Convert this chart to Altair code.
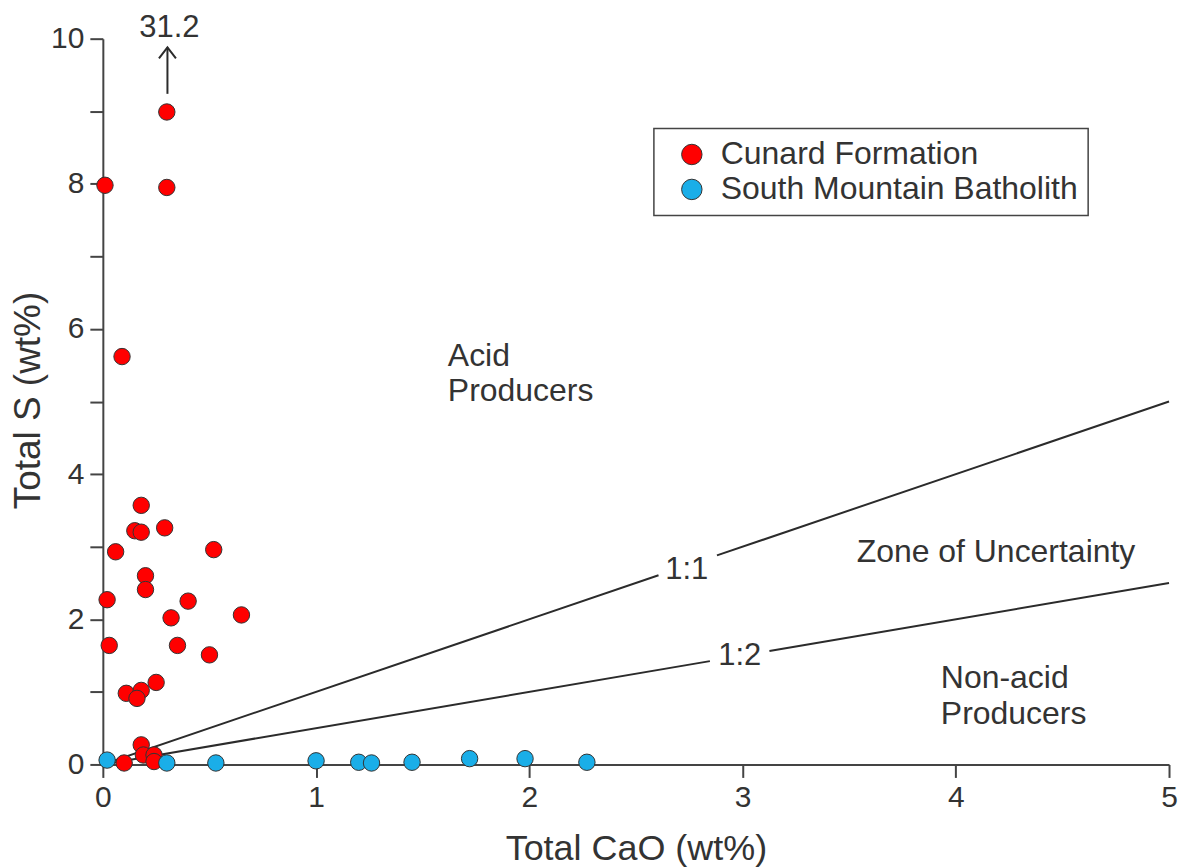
import altair as alt
import pandas as pd

# ---------------- data ----------------
series = ["Cunard Formation", "South Mountain Batholith"]
colors = ["#ff0000", "#1aaee8"]

cunard_cao = [0.01, 0.30, 0.30, 0.09, 0.18, 0.15, 0.18, 0.29, 0.06, 0.52,
              0.20, 0.20, 0.02, 0.40, 0.32, 0.65, 0.03, 0.35, 0.50, 0.25,
              0.11, 0.18, 0.16, 0.18, 0.19, 0.24, 0.24, 0.10]
cunard_s = [7.98, 8.99, 7.95, 5.62, 3.57, 3.22, 3.20, 3.26, 2.93, 2.96,
            2.60, 2.41, 2.27, 2.25, 2.02, 2.06, 1.64, 1.64, 1.51, 1.13,
            0.98, 1.02, 0.91, 0.27, 0.13, 0.13, 0.04, 0.02]

smb_cao = [0.02, 0.30, 0.53, 1.00, 1.20, 1.26, 1.45, 1.72, 1.98, 2.27]
smb_s = [0.06, 0.02, 0.02, 0.05, 0.03, 0.02, 0.03, 0.08, 0.08, 0.03]

# ratio lines (1:1 and 1:2), broken where their labels sit
seg_x1 = [0.0, 2.88, 0.0, 3.126]
seg_y1 = [0.0, 2.88, 0.0, 1.563]
seg_x2 = [2.606, 5.0, 2.847, 5.0]
seg_y2 = [2.606, 5.0, 1.4235, 2.5]

# annotation labels
left_text = ["Acid", "Producers", "Zone of Uncertainty", "Non-acid", "Producers"]
left_x = [1.618, 1.618, 3.535, 3.93, 3.93]
left_y = [5.495, 5.01, 2.79, 1.048, 0.557]

center_text = ["1:1", "1:2", "31.2"]
center_x = [2.738, 2.987, 0.3125]
center_y = [2.56, 1.37, 10.03]

# off-scale arrow (value 31.2)
arrow_x = [0.303]
arrow_y0 = [9.24]
arrow_y1 = [9.88]

# ---------------- tables ----------------
pts = pd.DataFrame({
    "cao": cunard_cao + smb_cao,
    "s": cunard_s + smb_s,
    "series": [series[0]] * len(cunard_cao) + [series[1]] * len(smb_cao),
})
segs = pd.DataFrame({"x": seg_x1, "y": seg_y1, "x2": seg_x2, "y2": seg_y2})
lt = pd.DataFrame({"x": left_x, "y": left_y, "t": left_text})
ct = pd.DataFrame({"x": center_x, "y": center_y, "t": center_text})
arr = pd.DataFrame({"x": arrow_x, "y": arrow_y0, "y2": arrow_y1})
head = pd.DataFrame({"x": arrow_x, "y": arrow_y1})

FONT = "Liberation Sans"
TXT = "#333333"
AX = "#444444"

xscale = alt.Scale(domain=[0, 5], nice=False, zero=False)
yscale = alt.Scale(domain=[0, 10], nice=False, zero=False)

xaxis = alt.Axis(values=[0, 1, 2, 3, 4, 5], format="d", title="Total CaO (wt%)", grid=False,
                 labelFlush=False, labelOverlap=False,
                 tickSize=13, tickWidth=2, domainWidth=2, domainColor=AX, tickColor=AX,
                 labelFontSize=30, labelColor=TXT, labelPadding=5, labelFont=FONT,
                 titleFontSize=36, titleFontWeight="normal", titleColor=TXT, titleFont=FONT,
                 titleY=95, titleBaseline="alphabetic")
yaxis = alt.Axis(values=list(range(11)), format="d", title="Total S (wt%)", grid=False,
                 labelFlush=False, labelOverlap=False,
                 labelExpr="datum.value % 2 === 0 ? datum.label : ''",
                 tickSize=13, tickWidth=2, domainWidth=2, domainColor=AX, tickColor=AX,
                 labelFontSize=30, labelColor=TXT, labelPadding=6, labelFont=FONT,
                 titleFontSize=37, titleFontWeight="normal", titleColor=TXT, titleFont=FONT,
                 titleX=-74, titleY=362, titleBaseline="middle")

lines = alt.Chart(segs).mark_rule(color="#2b2b2b", strokeWidth=2).encode(
    x=alt.X("x:Q", scale=xscale, axis=xaxis),
    y=alt.Y("y:Q", scale=yscale, axis=yaxis),
    x2="x2:Q", y2="y2:Q",
)

shaft = alt.Chart(arr).mark_rule(color="#2b2b2b", strokeWidth=2).encode(
    x=alt.X("x:Q", scale=xscale), y=alt.Y("y:Q", scale=yscale), y2="y2:Q"
)
arrowhead = alt.Chart(head).mark_point(
    shape="M-1,1.3L0,0L1,1.3", size=289, filled=False, stroke="#2b2b2b",
    strokeWidth=2, opacity=1
).encode(x=alt.X("x:Q", scale=xscale), y=alt.Y("y:Q", scale=yscale))

points = alt.Chart(pts).mark_circle(size=270, stroke="#333333", strokeWidth=1, opacity=1).encode(
    x=alt.X("cao:Q", scale=xscale),
    y=alt.Y("s:Q", scale=yscale),
    color=alt.Color("series:N", scale=alt.Scale(domain=series, range=colors),
                    legend=alt.Legend(title=None, orient="none", legendX=552, legendY=90,
                                      labelFontSize=32, labelFont=FONT, labelColor=TXT,
                                      labelLimit=0, symbolSize=420, symbolType="circle",
                                      symbolStrokeColor="#333333", symbolStrokeWidth=1,
                                      symbolOffset=12, labelOffset=13, padding=10,
                                      rowPadding=3, strokeColor=AX, fillColor="white")),
)

ltext = alt.Chart(lt).mark_text(align="left", baseline="alphabetic", fontSize=32,
                                font=FONT, color=TXT).encode(
    x=alt.X("x:Q", scale=xscale), y=alt.Y("y:Q", scale=yscale), text="t:N")
ctext = alt.Chart(ct).mark_text(align="center", baseline="alphabetic", fontSize=31,
                                font=FONT, color=TXT).encode(
    x=alt.X("x:Q", scale=xscale), y=alt.Y("y:Q", scale=yscale), text="t:N")

chart = alt.layer(lines, shaft, arrowhead, points, ltext, ctext).properties(
    width=1068, height=727,
    autosize=alt.AutoSizeParams(type="none"),
    padding={"left": 95, "top": 30, "right": 9, "bottom": 102},
).configure_view(stroke=None).configure_legend(strokeWidth=1.5)

chart.save("out.html", embed_options={"renderer": "svg", "actions": False})
